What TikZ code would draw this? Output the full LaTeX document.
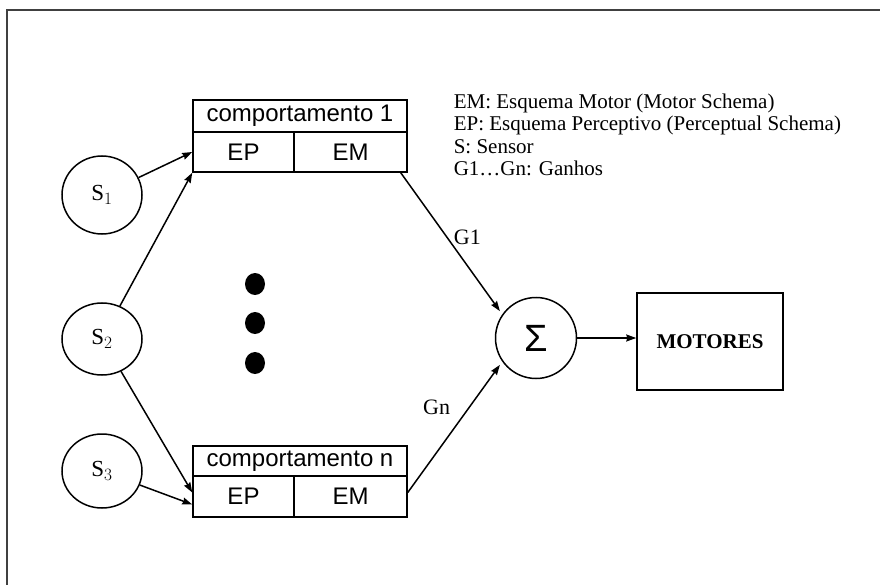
\documentclass[tikz,border=0pt]{standalone}
\usepackage{fontspec}
\setmainfont{Liberation Serif}
\newfontfamily\boxfont{Liberation Sans}
\usetikzlibrary{shapes.geometric,arrows.meta}

\begin{document}
\begin{tikzpicture}
[
x=1pt,y=-1pt,
line width=1.5pt,
>={Stealth[length=10pt,width=7pt,inset=1pt]},
sensor/.style={draw,ellipse,minimum width=80pt,minimum height=#1,inner sep=0pt,
            font=\fontsize{23}{23}\selectfont},
part/.style={draw,rectangle,inner sep=0pt,minimum width=#1,font=\boxfont\fontsize{24}{24}\selectfont},
dot/.style={fill,ellipse,minimum width=20pt,minimum height=22pt,inner sep=0pt},
]
\useasboundingbox (0,0) rectangle (880,585);

%Frame
\draw[line width=2.5pt,black!75] (7,10) rectangle (900,620);

%Place the nodes
\node[sensor=78pt] (s1) at (102,195) {$\mathrm{S}_1$};
\node[sensor=72pt] (s2) at (102,339) {$\mathrm{S}_2$};
\node[sensor=74pt] (s3) at (102,471) {$\mathrm{S}_3$};

\node[part=214pt,minimum height=32pt] (c1) at (300,116) {comportamento 1};
\node[part=101pt,minimum height=40pt] (c1ep) at (243.5,152) {EP};
\node[part=113pt,minimum height=40pt] (c1em) at (350.5,152) {EM};

\node[part=214pt,minimum height=30pt] (cn) at (300,461) {comportamento n};
\node[part=101pt,minimum height=41pt] (cnep) at (243.5,496.5) {EP};
\node[part=113pt,minimum height=41pt] (cnem) at (350.5,496.5) {EM};

\foreach \y [count=\i] in {284,323,363}
  \node[dot] (dot\i) at (255,\y) {};

\node[draw,circle,minimum size=81pt,inner sep=0pt,font=\boxfont\fontsize{38}{38}\selectfont] (sigma) at (536,338) {Σ};
\node[draw,rectangle,minimum width=146pt,minimum height=97pt,font=\bfseries\fontsize{21}{21}\selectfont] (motores) at (710,341.5) {MOTORES};

\node[anchor=north west,align=left,inner sep=0pt,font=\fontsize{21}{21.5}\selectfont] (legend) at (453,93)
  {EM: Esquema Motor (Motor Schema)\\[1pt]
   EP: Esquema Perceptivo (Perceptual Schema)\\[1pt]
   S: Sensor\\[1pt]
   G1\ldots Gn: Ganhos};

%Draw the connections
\draw[->] (s1) -- (c1ep.west);
\draw[->] (s2) -- (c1ep.south west);
\draw[->] (s2) -- ([yshift=4pt]cnep.west);
\draw[->] (s3) -- ([yshift=-8pt]cnep.west);
\draw[->,shorten >=4pt] ([xshift=-7pt]c1em.south east) -- node[pos=0.47,xshift=19pt,yshift=2pt,font=\fontsize{22}{22}\selectfont] {G1} (sigma.145);
\draw[->,shorten >=4pt] ([yshift=4pt]cnem.east) -- node[pos=0.65,left=15pt,font=\fontsize{22}{22}\selectfont] {Gn} (sigma.215);
\draw[->] (sigma.east) -- (motores.west |- sigma.east);
\end{tikzpicture}
\end{document}
